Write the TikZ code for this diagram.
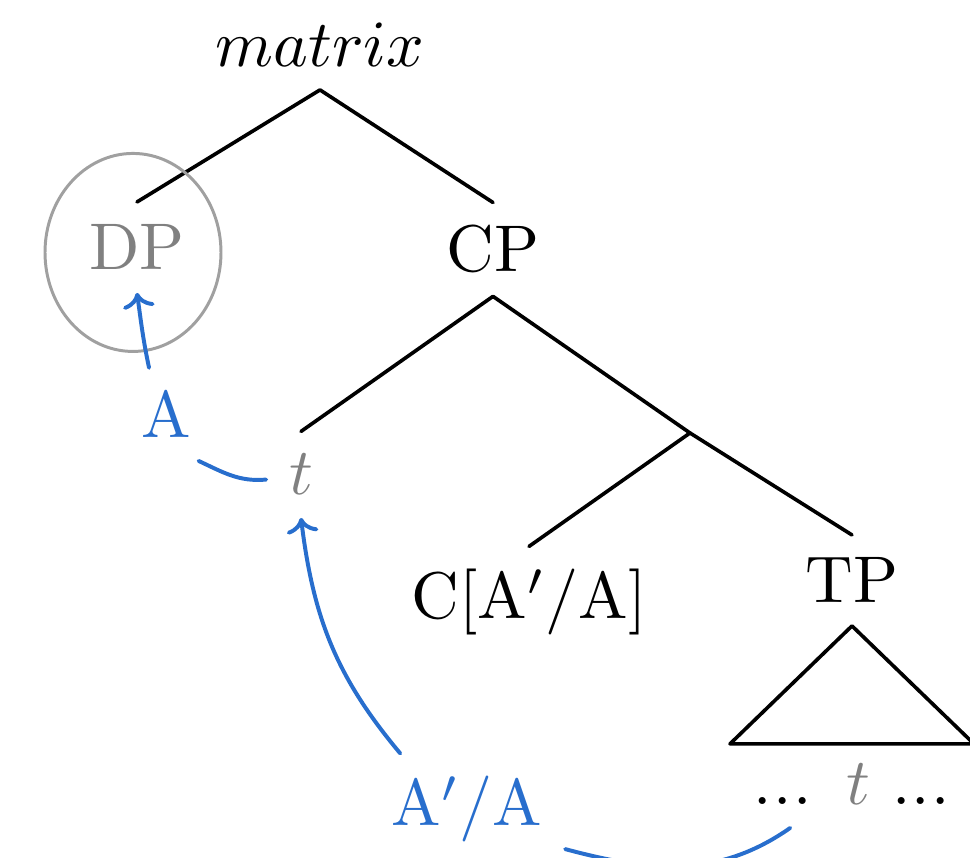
\documentclass[tikz,border=0pt]{standalone}
\usetikzlibrary{arrows.meta}
\definecolor{movblue}{RGB}{40,110,205}
\definecolor{ringgray}{RGB}{160,160,160}
\newcommand\trdots{.\kern0.2pt.\kern0.2pt.}
\begin{document}
\begin{tikzpicture}[>={To[length=2.3pt,width=4.8pt]},line join=round,line cap=round,
		line width=0.55pt,x=0.5325cm,y=0.5325cm,
		cat/.style={anchor=base,inner sep=3.2pt},
		mv/.style={cat,text=movblue},
		trc/.style={cat,text=gray},
		mvline/.style={draw=movblue,line width=0.6pt}]
	\useasboundingbox (0,0) rectangle (9.70,8.58);
	% tree
	\node[cat] (matrix) at (3.20,7.91) {$matrix$};
	\node[trc] (DP) at (1.37,5.88) {DP};
	\node[cat] (CP) at (4.93,5.86) {CP};
	\node[trc] (tmid) at (3.01,3.63) {$t$};
	\coordinate (mid) at (6.90,4.25);
	\node[cat] (C) at (5.29,2.39) {$\mathrm{C[A'/A]}$};
	\node[cat] (TP) at (8.52,2.55) {TP};
	\node[cat] (tlow) at (8.52,0.53) {\trdots\hspace{5.3pt}\textcolor{gray}{$t$}\ \trdots};
	\draw (matrix.south)--(DP.north) (matrix.south)--(CP.north);
	\draw (CP.south)--(tmid.north) (CP.south)--(mid);
	\draw (mid)--(C.north) (mid)--(TP.north);
	\draw (TP.south)--++(-1.22,-1.18)--++(2.44,0)--cycle;
	\draw[ringgray,line width=0.45pt] (DP) ++(-0.04,-0.05) ellipse (0.88 and 0.99); % circled DP
	% movement labels
	\node[mv] (A) at (1.66,4.20) {A};
	\node[mv] (AA) at (4.67,0.32) {$\mathrm{A'/A}$};
	\draw[mvline] (tlow.-145) to[out=-145,in=-15] (AA.-22);
	\draw[mvline,->] (AA.140) to[out=130,in=-83] (tmid.south);
	\draw[mvline] (tmid.188) to[out=185,in=-25] (A.-55);
	\draw[mvline,->] (A.110) to[out=102,in=-82] (DP.south);
\end{tikzpicture}
\end{document}
